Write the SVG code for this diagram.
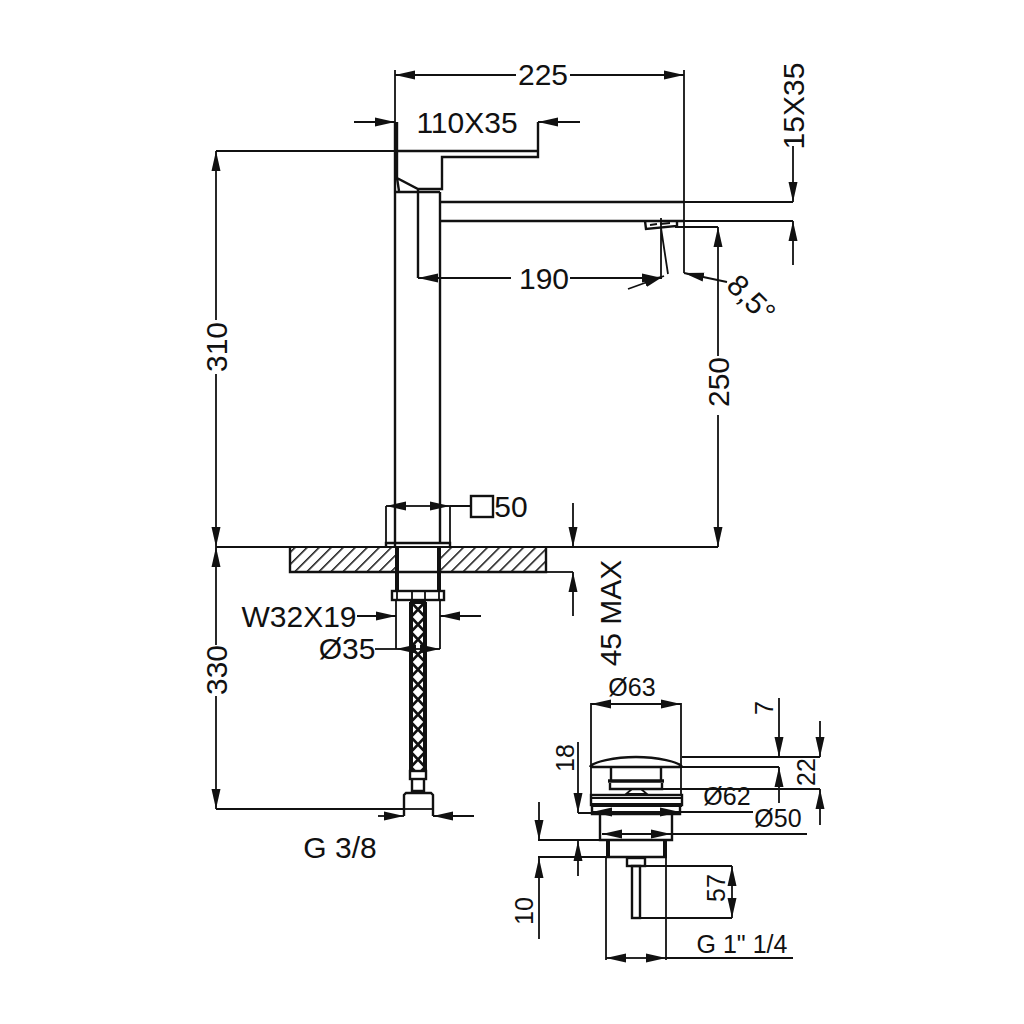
<svg xmlns="http://www.w3.org/2000/svg" width="1024" height="1024" viewBox="0 0 1024 1024">
<style>
text{font-family:"Liberation Sans",Arial,sans-serif;fill:#111;text-anchor:middle}
.b{font-size:30px}.s{font-size:25px}
line,path,rect,polyline{fill:none;stroke:#111;stroke-width:1.8}
.h{stroke-width:2.4}.t{stroke-width:4}
.m{marker-end:url(#a)}
</style>
<defs>
<marker id="a" markerUnits="userSpaceOnUse" markerWidth="22" markerHeight="11" refX="20" refY="5" orient="auto"><path d="M0 0.5L20 5L0 9.5Z" style="fill:#111;stroke:none"/></marker>
<pattern id="hatch" width="8.5" height="8.5" patternUnits="userSpaceOnUse" patternTransform="rotate(45)"><line x1="0" y1="0" x2="0" y2="8.5" style="stroke-width:3"/></pattern>
<pattern id="braid" x="411" y="602" width="14" height="15" patternUnits="userSpaceOnUse"><path d="M0 0L14 15M14 0L0 15" style="stroke-width:2.6"/></pattern>
</defs>

<g id="counter"><rect x="290" y="547" width="106" height="25" style="fill:url(#hatch);stroke:none"/><rect x="441" y="547" width="105" height="25" style="fill:url(#hatch);stroke:none"/><path class="h" d="M290 547V572H396M441 572H546V547"/></g>

<g id="faucet-body"><path class="h" d="M395 122V547M440 192V543M395 192H440M418 190V278"/></g>

<g id="faucet-handle"><path class="h" d="M397 122V178L418 189H442V157H538V122M397 151H538M397 178L399 191"/></g>

<g id="faucet-spout"><path class="h" d="M441 202H684M441 221H684M645 221L646 229L677 226V221"/><path d="M650 225L657 224M660 224L670 223"/></g>

<g id="base"><path class="h" d="M386 547V543H450V547"/><path class="t" d="M397 547V591M439 547V591"/><path class="h" d="M396 572H441"/><rect class="h" x="392" y="591" width="52" height="9"/><path d="M397 591V600M412 591V600M425 591V600M439 591V600"/><path class="t" d="M410 602H426"/></g>

<g id="hose"><rect x="411" y="602" width="14" height="168" style="fill:url(#braid);stroke:none"/><path class="t" d="M411 602V771M425 602V771"/><rect class="h" x="410" y="771" width="16" height="8"/><path class="h" d="M412 779V793M424 779V793M412 791H424"/><path class="h" d="M404 816V795L406 793H431L433 795V816"/><path d="M404 809H433"/></g>

<g id="waste"><path class="h" d="M590 767C592 762 615 757 636 757C657 757 680 762 682 767M590 767H682"/><path class="h" d="M611 767V781M661 767V781"/><path d="M608 781H664" style="stroke-width:3.5"/><path class="h" d="M610 783V789H662V783"/><path d="M632 789L626 794H647L641 789"/><rect class="h" x="591" y="795" width="91" height="10"/><path d="M591 798H682"/><path class="t" d="M591 805H682"/><path class="h" d="M592 806V814H680V806M592 814H680"/><path class="h" d="M600 814V840H672V814"/><path class="t" d="M608 840V857M665 840V857"/><path class="h" d="M606 857H667"/><rect class="h" x="627" y="858" width="18" height="8"/><rect class="h" x="632" y="866" width="8" height="52"/></g>

<g id="connectors">
<line x1="395" y1="70" x2="395" y2="122"/><line x1="684" y1="70" x2="684" y2="273"/>
<line class="m" x1="516" y1="75" x2="395" y2="75"/><line class="m" x1="570" y1="75" x2="684" y2="75"/>
<line class="m" x1="354" y1="122" x2="395" y2="122"/><line class="m" x1="580" y1="122" x2="538" y2="122"/>
<path d="M216 151H397"/>
<line class="m" x1="216" y1="320" x2="216" y2="151"/><line class="m" x1="216" y1="374" x2="216" y2="547"/>
<line class="m" x1="216" y1="645" x2="216" y2="547"/><line class="m" x1="216" y1="696" x2="216" y2="809"/>
<path d="M216 547H718M216 809H404"/>
<path d="M684 202H793M684 221H793"/>
<line class="m" x1="793" y1="146" x2="793" y2="202"/><line class="m" x1="793" y1="265" x2="793" y2="221"/>
<path d="M675 227H718"/>
<line class="m" x1="718" y1="356" x2="718" y2="227"/><line class="m" x1="718" y1="415" x2="718" y2="547"/>
<line class="m" x1="511" y1="278" x2="418" y2="278"/><line class="m" x1="570" y1="278" x2="662" y2="278"/>
<path d="M661 218V278M661 228L668 274"/>
<line class="m" x1="628" y1="289" x2="664" y2="276"/>
<line class="m" x1="727" y1="282" x2="684" y2="273"/>
<path d="M386 543V506M450 543V506M450 506H471"/><rect class="h" x="471" y="496" width="22" height="21"/>
<line class="m" x1="418" y1="506" x2="386" y2="506"/><line class="m" x1="418" y1="506" x2="450" y2="506"/>
<line class="m" x1="573" y1="503" x2="573" y2="547"/><line class="m" x1="573" y1="616" x2="573" y2="572"/><path d="M546 572H573"/>
<path d="M396 600V649M440 600V649"/>
<line class="m" x1="357" y1="616" x2="396" y2="616"/><line class="m" x1="481" y1="616" x2="440" y2="616"/>
<path d="M375 649H396"/><line class="m" x1="418" y1="649" x2="396" y2="649"/><line class="m" x1="418" y1="649" x2="440" y2="649"/>
<line class="m" x1="378" y1="816" x2="404" y2="816"/><line class="m" x1="474" y1="816" x2="433" y2="816"/>

<path d="M591 703V794M681 703V794"/>
<line class="m" x1="636" y1="704" x2="591" y2="704"/><line class="m" x1="636" y1="704" x2="681" y2="704"/>
<path d="M682 757H820M682 767H779"/>
<line class="m" x1="779" y1="698" x2="779" y2="757"/><line class="m" x1="779" y1="803" x2="779" y2="767"/>
<line class="m" x1="820" y1="721" x2="820" y2="757"/><line class="m" x1="820" y1="825" x2="820" y2="789"/>
<path d="M660 789H820"/>
<line class="m" x1="578" y1="742" x2="578" y2="813"/><path d="M578 813H592M680 812H753"/>
<line class="m" x1="636" y1="812" x2="592" y2="812"/><line class="m" x1="636" y1="812" x2="680" y2="812"/>
<line class="m" x1="636" y1="834" x2="602" y2="834"/><line class="m" x1="636" y1="834" x2="671" y2="834"/>
<path d="M672 834H807"/>
<path d="M538 840H600M538 857H606"/>
<line class="m" x1="539" y1="802" x2="539" y2="840"/><line class="m" x1="539" y1="939" x2="539" y2="858"/>
<line class="m" x1="578" y1="876" x2="578" y2="841"/>
<path d="M645 866H732M640 918H732M606 857V960M666 857V960"/>
<line class="m" x1="732" y1="892" x2="732" y2="866"/><line class="m" x1="732" y1="892" x2="732" y2="918"/>
<line class="m" x1="636" y1="958" x2="606" y2="958"/><line class="m" x1="636" y1="958" x2="666" y2="958"/>
<path d="M666 958H793"/>
</g>

<g id="labels">
<text class="b" x="543" y="85">225</text>
<text class="b" x="467" y="133">110X35</text>
<text class="b" transform="translate(804,106) rotate(-90)">15X35</text>
<text class="b" x="544" y="289">190</text>
<text class="b" transform="translate(725,287) rotate(45)" style="text-anchor:start">8,5°</text>
<text class="b" transform="translate(227,347) rotate(-90)">310</text>
<text class="b" transform="translate(729,382) rotate(-90)">250</text>
<text class="b" transform="translate(227,670) rotate(-90)">330</text>
<text class="b" x="511" y="517">50</text>
<text class="b" transform="translate(621,613) rotate(-90)">45 MAX</text>
<text class="b" x="299" y="627">W32X19</text>
<text class="b" x="347" y="659">Ø35</text>
<text class="b" x="340" y="858">G 3/8</text>
<text class="s" x="632" y="696">Ø63</text>
<text class="s" x="727" y="805">Ø62</text>
<text class="s" x="778" y="827">Ø50</text>
<text class="s" transform="translate(773,708) rotate(-90)">7</text>
<text class="s" transform="translate(574,758) rotate(-90)">18</text>
<text class="s" transform="translate(815,772) rotate(-90)">22</text>
<text class="s" transform="translate(725,888) rotate(-90)">57</text>
<text class="s" transform="translate(533,911) rotate(-90)">10</text>
<text class="s" x="742" y="953">G 1" 1/4</text>
</g>
</svg>
